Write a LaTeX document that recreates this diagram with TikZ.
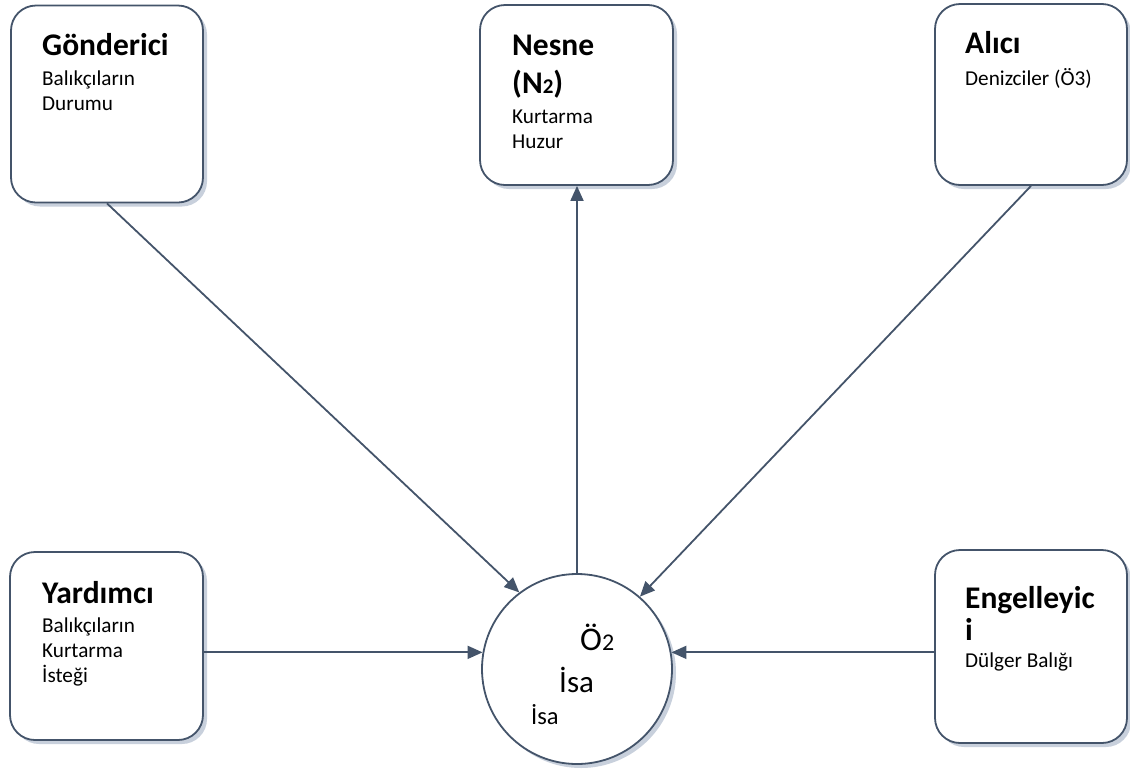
\documentclass[tikz,border=0pt]{standalone}
\usepackage{fontspec}
\setmainfont{Carlito}
\usetikzlibrary{arrows.meta,shadows,positioning}
\definecolor{edgeblue}{HTML}{44546A}
\definecolor{shadowblue}{HTML}{C8D0DC}
\begin{document}
\begin{tikzpicture}[
            x=1pt, y=-1pt,
            box/.style={rectangle, rounded corners=25pt, draw=edgeblue, line width=1.8pt, fill=white,
              drop shadow={shadow xshift=4pt, shadow yshift=-4pt, fill=shadowblue, opacity=1}},
            circ/.style={circle, draw=edgeblue, line width=1.8pt, fill=white, minimum size=190pt, inner sep=0pt,
              drop shadow={shadow xshift=4pt, shadow yshift=-4pt, fill=shadowblue, opacity=1}},
            title/.style={anchor=base west, inner sep=0pt, font=\fontsize{31.5}{36}\selectfont\bfseries},
            body/.style={anchor=base west, inner sep=0pt, font=\fontsize{21.2}{25}\selectfont},
            arr/.style={draw=edgeblue, line width=1.8pt, -{Triangle[length=15pt, width=13pt]}}
            ]
            \useasboundingbox (0,0) rectangle (1130,772);
            \node[box, minimum width=192pt, minimum height=197pt] (gond) at (107,104) {};
            \node[box, minimum width=193pt, minimum height=180pt] (nesne) at (576.5,95) {};
            \node[box, minimum width=192pt, minimum height=181pt] (alici) at (1031,94.5) {};
            \node[box, minimum width=193pt, minimum height=188pt] (yard) at (106.5,646) {};
            \node[box, minimum width=192pt, minimum height=193pt] (engel) at (1031,646.5) {};
            \node[circ] (isa) at (577,669) {};

            \node[title] (gond-1) at (42,55) {Gönderici};
            \node[body] (gond-2) at (42,85) {Balıkçıların};
            \node[body] (gond-3) at (42,110) {Durumu};

            \node[title] (nesne-1) at (512,55) {Nesne};
            \node[title] (nesne-2) at (512,93) {(N{\fontsize{21}{22}\selectfont 2})};
            \node[body] (nesne-3) at (512,123) {Kurtarma};
            \node[body] (nesne-4) at (512,148) {Huzur};

            \node[title] (alici-1) at (965,53) {Alıcı};
            \node[body] (alici-2) at (965,85) {Denizciler (Ö3)};

            \node[title] (yard-1) at (42,603) {Yardımcı};
            \node[body] (yard-2) at (42,632) {Balıkçıların};
            \node[body] (yard-3) at (42,657) {Kurtarma};
            \node[body] (yard-4) at (42,682) {İsteği};

            \node[title] (engel-1) at (965,608) {Engelleyic};
            \node[title] (engel-2) at (965,640) {i};
            \node[body] (engel-3) at (965,667) {Dülger Balığı};

            \node[anchor=base west, inner sep=0pt] (o2) at (580,650) {\fontsize{33}{36}\selectfont Ö{\fontsize{24}{26}\selectfont 2}};
            \node[anchor=base west, inner sep=0pt] (isa-big) at (559,692) {\fontsize{31}{34}\selectfont İsa};
            \node[anchor=base west, inner sep=0pt] (isa-small) at (531,724) {\fontsize{24.5}{28}\selectfont İsa};

            \draw[arr] (gond.south) -- (isa.127);
            \draw[arr] (alici.south) -- (isa.49);
            \draw[arr] (isa.north) -- (isa.north |- nesne.south);
            \draw[arr] (isa.170 -| yard.east) -- (isa.170);
            \draw[arr] (isa.10 -| engel.west) -- (isa.10);
        \end{tikzpicture}
\end{document}
